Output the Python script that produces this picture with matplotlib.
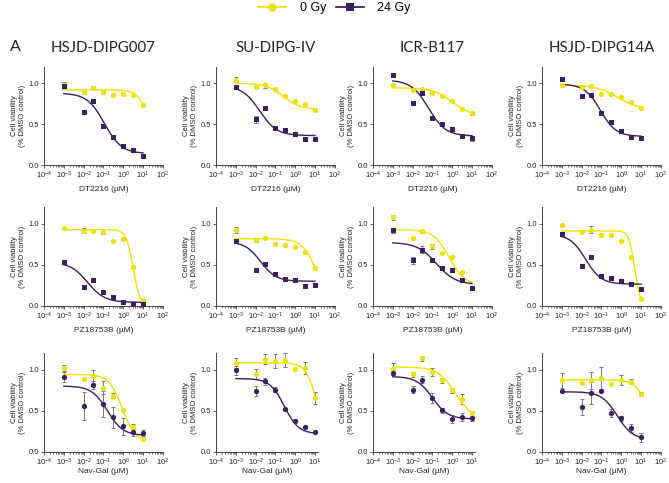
import numpy as np
import matplotlib
matplotlib.use("Agg")
import matplotlib.pyplot as plt
from matplotlib.lines import Line2D
from matplotlib.ticker import FixedLocator, LogLocator, NullFormatter

plt.rcParams['font.family'] = ['Liberation Sans', 'DejaVu Sans']
plt.rcParams['mathtext.default'] = 'regular'

# ---------------- data ----------------
cell_lines = ["HSJD-DIPG007", "SU-DIPG-IV", "ICR-B117", "HSJD-DIPG14A"]
drugs = ["DT2216", "PZ18753B", "Nav-Gal"]
doses = [1e-3, 1e-2, 3e-2, 1e-1, 3e-1, 1, 3, 10]
series_labels = ["0 Gy", "24 Gy"]

# DT2216 (row 1) -- viability per cell line
dt_v0 = [[0.976, 0.894, 0.943, 0.894, 0.860, 0.873, 0.860, 0.740],
         [1.045, 0.955, 0.976, 0.927, 0.845, 0.780, 0.747, 0.678],
         [0.980, 0.920, 0.935, 0.880, 0.850, 0.785, 0.690, 0.632],
         [0.980, 0.960, 0.967, 0.865, 0.865, 0.837, 0.770, 0.700]]
dt_e0 = [[0.04, 0.03, 0.03, 0.02, 0.01, 0.01, 0.01, 0.01],
         [0.03, 0.01, 0.03, 0.01, 0.01, 0.01, 0.01, 0.01],
         [0.01, 0.01, 0.01, 0.01, 0.01, 0.01, 0.01, 0.02],
         [0.01, 0.01, 0.01, 0.01, 0.01, 0.01, 0.01, 0.01]]
dt_v24 = [[0.963, 0.650, 0.780, 0.480, 0.343, 0.237, 0.180, 0.110],
          [0.950, 0.560, 0.700, 0.453, 0.424, 0.384, 0.314, 0.314],
          [1.100, 0.760, 0.885, 0.570, 0.500, 0.445, 0.356, 0.328],
          [1.057, 0.845, 0.857, 0.641, 0.527, 0.420, 0.343, 0.335]]
dt_e24 = [[0.02, 0.01, 0.01, 0.01, 0.01, 0.01, 0.01, 0.01],
          [0.01, 0.04, 0.01, 0.02, 0.01, 0.01, 0.01, 0.01],
          [0.01, 0.01, 0.03, 0.02, 0.01, 0.01, 0.01, 0.03],
          [0.01, 0.01, 0.01, 0.01, 0.01, 0.01, 0.01, 0.01]]
# fitted curve parameters: top, bottom, logIC50, hill
dt_fit0 = [[0.92, 0.00, 1.40, 1.5], [1.00, 0.68, -0.60, 1.0],
           [0.945, 0.60, 0.00, 0.9], [0.98, 0.68, -0.20, 0.8]]
dt_fit24 = [[0.88, 0.14, -0.95, 1.0], [0.97, 0.36, -1.80, 1.0],
            [1.04, 0.355, -1.20, 1.0], [0.99, 0.35, -1.05, 1.1]]

# PZ18753B (row 2)
pz_v0 = [[0.950, 0.910, 0.907, 0.900, 0.785, 0.810, 0.474, 0.077],
         [0.920, 0.800, 0.830, 0.757, 0.740, 0.717, 0.656, 0.466],
         [1.073, 0.830, 0.907, 0.725, 0.648, 0.595, 0.417, 0.215],
         [0.980, 0.898, 0.927, 0.857, 0.865, 0.792, 0.592, 0.090]]
pz_e0 = [[0.01, 0.03, 0.01, 0.03, 0.01, 0.01, 0.01, 0.01],
         [0.04, 0.02, 0.01, 0.01, 0.01, 0.01, 0.01, 0.01],
         [0.03, 0.01, 0.02, 0.03, 0.01, 0.01, 0.01, 0.02],
         [0.01, 0.01, 0.04, 0.01, 0.01, 0.01, 0.01, 0.01]]
pz_v24 = [[0.538, 0.228, 0.312, 0.166, 0.105, 0.050, 0.020, 0.020],
          [0.785, 0.433, 0.514, 0.393, 0.332, 0.312, 0.243, 0.260],
          [0.920, 0.555, 0.684, 0.555, 0.462, 0.433, 0.312, 0.215],
          [0.878, 0.490, 0.592, 0.367, 0.335, 0.302, 0.270, 0.212]]
pz_e24 = [[0.01, 0.01, 0.01, 0.01, 0.01, 0.01, 0.01, 0.01],
          [0.01, 0.01, 0.01, 0.01, 0.01, 0.01, 0.01, 0.01],
          [0.03, 0.04, 0.04, 0.01, 0.01, 0.02, 0.01, 0.01],
          [0.01, 0.01, 0.01, 0.01, 0.01, 0.01, 0.01, 0.02]]
pz_fit0 = [[0.925, 0.00, 0.50, 2.5], [0.815, 0.00, 1.12, 1.15],
           [0.925, 0.25, -0.15, 1.1], [0.91, 0.00, 0.68, 3.0]]
pz_fit24 = [[0.53, 0.045, -1.80, 1.0], [0.78, 0.30, -1.75, 1.1],
            [0.77, 0.26, -0.80, 0.9], [0.87, 0.265, -1.80, 1.1]]

# Nav-Gal (row 3)
ng_v0 = [[1.016, 0.890, 0.920, 0.780, 0.684, 0.506, 0.304, 0.158],
         [1.074, 0.950, 1.128, 1.103, 1.116, 1.008, 1.017, 0.657],
         [1.004, 0.943, 1.135, 0.971, 0.869, 0.746, 0.643, 0.471],
         [0.869, 0.841, 0.869, 0.898, 0.829, 0.869, 0.849, 0.702]]
ng_e0 = [[0.04, 0.01, 0.08, 0.08, 0.03, 0.01, 0.03, 0.01],
         [0.06, 0.06, 0.06, 0.08, 0.08, 0.01, 0.07, 0.07],
         [0.07, 0.03, 0.03, 0.05, 0.03, 0.03, 0.06, 0.03],
         [0.09, 0.01, 0.10, 0.13, 0.01, 0.06, 0.03, 0.02]]
ng_v24 = [[0.907, 0.563, 0.814, 0.583, 0.420, 0.312, 0.240, 0.230],
          [0.988, 0.744, 0.855, 0.752, 0.525, 0.380, 0.298, 0.244],
          [0.959, 0.754, 0.877, 0.656, 0.508, 0.397, 0.422, 0.418],
          [0.735, 0.547, 0.714, 0.743, 0.469, 0.408, 0.294, 0.176]]
ng_e24 = [[0.06, 0.17, 0.05, 0.16, 0.13, 0.10, 0.05, 0.04],
          [0.06, 0.06, 0.04, 0.03, 0.01, 0.02, 0.01, 0.01],
          [0.03, 0.04, 0.04, 0.06, 0.03, 0.05, 0.05, 0.04],
          [0.01, 0.10, 0.13, 0.01, 0.05, 0.03, 0.05, 0.05]]
ng_fit0 = [[0.94, 0.12, -0.05, 1.3], [1.08, 0.00, 1.16, 1.5],
           [1.03, 0.40, 0.15, 1.0], [0.875, 0.00, 1.48, 1.3]]
ng_fit24 = [[0.80, 0.20, -0.80, 1.1], [0.89, 0.22, -0.55, 1.2],
            [0.915, 0.40, -1.00, 1.1], [0.73, 0.15, -0.20, 1.1]]

# x-axis upper limit per panel (row 3 panels 2 and 3 stop just past 10^1)
xmax_rows = [[1e2, 1e2, 1e2, 1e2], [1e2, 1e2, 1e2, 1e2], [1e2, 15, 15, 1e2]]

rows = [(dt_v0, dt_e0, dt_v24, dt_e24, dt_fit0, dt_fit24),
        (pz_v0, pz_e0, pz_v24, pz_e24, pz_fit0, pz_fit24),
        (ng_v0, ng_e0, ng_v24, ng_e24, ng_fit0, ng_fit24)]

# ---------------- style ----------------
YEL = '#EFE100'
PUR = '#38215E'
ERR = '#777777'
AX = '#444444'
TXT = '#222222'

W, H = 669, 483
fig = plt.figure(figsize=(W / 100, H / 100), dpi=100)

col_left = [44, 216, 373, 542]
decade_px = 19.8
row_top = [67, 207, 353]
row_bot = [165, 306, 452]
marker24 = ['s', 's', 'o']
xlabel_pad = [3.0, 3.0, 0.0]


def logistic(x, top, bottom, logic50, hill):
    return bottom + (top - bottom) / (1 + 10 ** ((np.log10(x) - logic50) * hill))


xc = np.logspace(-3, 1, 200)

for r in range(3):
    v0, e0, v24, e24, f0, f24 = rows[r]
    for c in range(4):
        xmax = xmax_rows[r][c]
        width = (np.log10(xmax) + 4) * decade_px
        left = col_left[c]
        ax = fig.add_axes([left / W, 1 - row_bot[r] / H, width / W,
                           (row_bot[r] - row_top[r]) / H])
        ax.set_xscale('log')
        ax.set_xlim(1e-4, xmax)
        ax.set_ylim(0, 1.2)
        for s in ['top', 'right']:
            ax.spines[s].set_visible(False)
        for s in ['left', 'bottom']:
            ax.spines[s].set_color(AX)
            ax.spines[s].set_linewidth(0.7)
        ax.set_yticks([0, 0.5, 1.0])
        ax.set_yticklabels(['0.0', '0.5', '1.0'])
        dec = [10.0 ** k for k in range(-4, 3) if 10.0 ** k <= xmax * 1.001]
        ax.xaxis.set_major_locator(FixedLocator(dec))
        ax.set_xticklabels([r'$10^{%d}$' % k for k in range(-4, 3) if 10.0 ** k <= xmax * 1.001])
        ax.xaxis.set_minor_locator(LogLocator(base=10, subs=np.arange(2, 10), numticks=20))
        ax.xaxis.set_minor_formatter(NullFormatter())
        ax.tick_params(axis='both', which='major', labelsize=5.4, length=2.2, width=0.6,
                       colors=AX, labelcolor=TXT, pad=1.5)
        ax.tick_params(axis='x', which='minor', length=1.2, width=0.5, colors=AX)
        ax.set_ylabel('Cell viability\n(% DMSO control)', fontsize=5.5, color=TXT,
                      labelpad=2.0, linespacing=1.15)
        ax.set_xlabel(drugs[r] + ' (µM)', fontsize=6.0, color=TXT, labelpad=xlabel_pad[r])
        ax.patch.set_alpha(0)

        # 0 Gy
        ax.errorbar(doses, v0[c], yerr=e0[c], fmt='none', ecolor=ERR, elinewidth=0.7,
                    capsize=1.4, capthick=0.7, zorder=2)
        ax.plot(xc, logistic(xc, *f0[c]), color=YEL, lw=1.0, zorder=3)
        ax.plot(doses, v0[c], 'o', color=YEL, ms=3.8, mew=0, zorder=4)
        # 24 Gy
        ax.errorbar(doses, v24[c], yerr=e24[c], fmt='none', ecolor=ERR, elinewidth=0.7,
                    capsize=1.4, capthick=0.7, zorder=2)
        ax.plot(xc, logistic(xc, *f24[c]), color=PUR, lw=1.0, zorder=3)
        ax.plot(doses, v24[c], marker24[r], color=PUR, ms=3.8 if r == 2 else 3.6, mew=0,
                zorder=4)

        if r == 0:
            fig.text((left + 6 * decade_px / 2) / W, 1 - 48 / H, cell_lines[c],
                     fontsize=10.8, family='Lato', ha='center', va='center', color=TXT)

fig.text(10 / W, 1 - 47 / H, 'A', fontsize=11.5, family='Lato', ha='left', va='center',
         color=TXT)

handles = [Line2D([], [], color=YEL, lw=1.3, marker='o', ms=6, mew=0),
           Line2D([], [], color=PUR, lw=1.3, marker='s', ms=6, mew=0)]
fig.legend(handles, series_labels, loc='center', bbox_to_anchor=(0.5, 1 - 8 / H), ncol=2,
           frameon=False, fontsize=9, handlelength=2.2, handletextpad=1.1,
           columnspacing=0.8, borderaxespad=0, borderpad=0)

fig.savefig('out.png', dpi=100)
